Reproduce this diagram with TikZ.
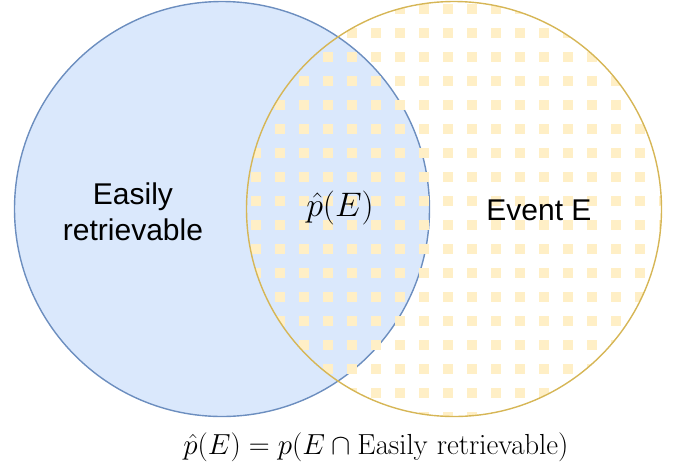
\RequirePackage{fix-cm}
\documentclass[tikz,border=0pt]{standalone}
\usepackage[no-math]{fontspec}
\newfontfamily\arialfont{Liberation Sans}
\definecolor{bluefill}{HTML}{DAE8FC}
\definecolor{bluedraw}{HTML}{6C8EBF}
\definecolor{yellowdraw}{HTML}{D6B656}
\definecolor{dotcol}{HTML}{FFEFC6}
\begin{document}
\begin{tikzpicture}[x=1pt,y=-1pt,
  setcircle/.style={circle, line width=1.4pt, minimum size=415pt, inner sep=0pt},
  sanslabel/.style={font=\arialfont\fontsize{30}{36}\selectfont, align=center, text=black, inner sep=0pt},
  mathlabel/.style={font=\fontsize{34}{40}\selectfont, inner sep=0pt}]
\useasboundingbox (0,0) rectangle (681,475);
\node[setcircle, draw=bluedraw, fill=bluefill] (easy) at (222,209) {};
\begin{scope}
  \clip (454,209) circle (207.5pt);
  \foreach \i in {0,...,17}
    \foreach \j in {0,...,17}
      \fill[dotcol] ({256+24*\i-5},{9+24*\j-5}) rectangle ++(10,10);
\end{scope}
\node[setcircle, draw=yellowdraw] (event) at (454,209) {};
\node[sanslabel] (easylbl) at (133,212) {Easily\\retrievable};
\node[sanslabel] (eventlbl) at (539,210) {Event E};
\node[mathlabel] (inter) at (340,208) {$\hat{p}(E)$};
\node[font=\fontsize{29}{34}\selectfont, inner sep=0pt] (formula) at (376,447) {$\hat{p}(E) = p(E \cap \mathrm{Easily\ retrievable})$};
\end{tikzpicture}
\end{document}
